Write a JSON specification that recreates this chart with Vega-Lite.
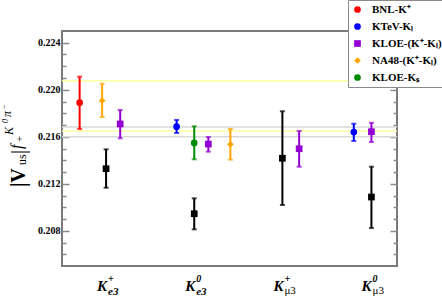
{
  "$schema": "https://vega.github.io/schema/vega-lite/v6.json",
  "width": 335,
  "height": 235,
  "autosize": {"type": "none"},
  "padding": {"left": 62, "top": 31, "right": 45, "bottom": 34},
  "background": "white",
  "config": {
    "view": {"stroke": "#7a7a7a", "strokeWidth": 2},
    "font": "Liberation Serif"
  },
  "datasets": {
    "meas": [
      {"channel": "K+e3", "source": "BNL-K⁺", "x": 0.70, "v": 0.21890, "lo": 0.21666, "hi": 0.22111},
      {"channel": "K+e3", "source": "NA48-(K⁺-Kₗ)", "x": 0.955, "v": 0.21907, "lo": 0.21768, "hi": 0.22051},
      {"channel": "K+e3", "source": "KLOE-(K⁺-Kₗ)", "x": 1.16, "v": 0.21709, "lo": 0.21587, "hi": 0.21828},
      {"channel": "K+e3", "source": "other", "x": 1.0, "v": 0.21328, "lo": 0.21166, "hi": 0.21493},
      {"channel": "K0e3", "source": "KTeV-Kₗ", "x": 1.80, "v": 0.21686, "lo": 0.21632, "hi": 0.21743},
      {"channel": "K0e3", "source": "KLOE-Kₛ", "x": 2.0, "v": 0.21547, "lo": 0.21408, "hi": 0.21689},
      {"channel": "K0e3", "source": "KLOE-(K⁺-Kₗ)", "x": 2.16, "v": 0.21538, "lo": 0.21473, "hi": 0.21598},
      {"channel": "K0e3", "source": "NA48-(K⁺-Kₗ)", "x": 2.41, "v": 0.21536, "lo": 0.21405, "hi": 0.21666},
      {"channel": "K0e3", "source": "other", "x": 2.0, "v": 0.20945, "lo": 0.20812, "hi": 0.21076},
      {"channel": "K+mu3", "source": "other", "x": 3.0, "v": 0.21417, "lo": 0.21019, "hi": 0.21817},
      {"channel": "K+mu3", "source": "KLOE-(K⁺-Kₗ)", "x": 3.19, "v": 0.21498, "lo": 0.21345, "hi": 0.21649},
      {"channel": "K0mu3", "source": "KTeV-Kₗ", "x": 3.81, "v": 0.21640, "lo": 0.21564, "hi": 0.21711},
      {"channel": "K0mu3", "source": "KLOE-(K⁺-Kₗ)", "x": 4.01, "v": 0.21643, "lo": 0.21555, "hi": 0.21719},
      {"channel": "K0mu3", "source": "other", "x": 4.01, "v": 0.21087, "lo": 0.20823, "hi": 0.21345}
    ],
    "lines": [
      {"kind": "average", "v": 0.22077},
      {"kind": "average", "v": 0.21650},
      {"kind": "band", "v": 0.21682},
      {"kind": "band", "v": 0.21600}
    ],
    "cats": [
      {"pos": 1, "main": "K", "sup": "+", "sub": "e3", "lep": "e"},
      {"pos": 2, "main": "K", "sup": "0", "sub": "e3", "lep": "e"},
      {"pos": 3, "main": "K", "sup": "+", "sub": "μ3", "lep": "mu"},
      {"pos": 4, "main": "K", "sup": "0", "sub": "μ3", "lep": "mu"}
    ],
    "one": [{"a": 1}]
  },
  "resolve": {"axis": {"y": "independent"}, "legend": {"color": "independent", "shape": "independent"}},
  "layer": [
    {
      "data": {"name": "lines"},
      "transform": [{"filter": "datum.kind === 'band'"}],
      "mark": {"type": "rule", "color": "#d9d9d9", "strokeWidth": 1.5},
      "encoding": {
        "y": {"field": "v", "type": "quantitative",
          "scale": {"domain": [0.205, 0.225], "nice": false, "zero": false},
          "axis": {
            "orient": "left", "title": null, "grid": false, "domain": false,
            "values": [0.206,0.207,0.208,0.209,0.21,0.211,0.212,0.213,0.214,0.215,0.216,0.217,0.218,0.219,0.22,0.221,0.222,0.223,0.224],
            "tickSize": {"condition": {"test": "round(datum.value*1000) % 4 === 0", "value": -7}, "value": -4},
            "tickColor": "#8a8a8a", "tickWidth": 1.5,
            "labelExpr": "round(datum.value*1000) % 4 === 0 ? format(datum.value, '.3f') : ''",
            "labelFont": "Liberation Serif", "labelFontWeight": "bold", "labelFontSize": 10,
            "labelColor": "black", "labelPadding": 9
          }
        }
      }
    },
    {
      "data": {"name": "lines"},
      "transform": [{"filter": "datum.kind === 'average'"}],
      "mark": {"type": "rule", "color": "#ffffa0", "strokeWidth": 1.5},
      "encoding": {
        "y": {"field": "v", "type": "quantitative",
          "scale": {"domain": [0.205, 0.225], "nice": false, "zero": false},
          "axis": {
            "orient": "right", "title": null, "grid": false, "domain": false, "labels": false,
            "values": [0.206,0.207,0.208,0.209,0.21,0.211,0.212,0.213,0.214,0.215,0.216,0.217,0.218,0.219,0.22,0.221,0.222,0.223,0.224],
            "tickSize": {"condition": {"test": "round(datum.value*1000) % 4 === 0", "value": -7}, "value": -4},
            "tickColor": "#8a8a8a", "tickWidth": 1.5
          }
        }
      }
    },
    {
      "data": {"name": "meas"},
      "transform": [{"filter": "datum.source !== 'other'"}],
      "mark": {"type": "errorbar", "thickness": 2, "ticks": {"size": 5, "thickness": 2}},
      "encoding": {
        "x": {"field": "x", "type": "quantitative", "scale": {"domain": [0.5, 4.3], "nice": false, "zero": false}, "axis": null},
        "y": {"field": "lo", "type": "quantitative", "scale": {"domain": [0.205, 0.225], "nice": false, "zero": false}, "axis": null},
        "y2": {"field": "hi"},
        "color": {"field": "source", "type": "nominal", "legend": null,
          "scale": {"domain": ["BNL-K⁺", "KTeV-Kₗ", "KLOE-(K⁺-Kₗ)", "NA48-(K⁺-Kₗ)", "KLOE-Kₛ"],
                    "range": ["#ff0000", "#0000ff", "#9400d3", "#ffa500", "#008c00"]}}
      }
    },
    {
      "data": {"name": "meas"},
      "transform": [{"filter": "datum.source === 'other'"}],
      "mark": {"type": "errorbar", "thickness": 2, "color": "black", "ticks": {"size": 5, "thickness": 2, "color": "black"}, "rule": {"color": "black"}},
      "encoding": {
        "x": {"field": "x", "type": "quantitative", "scale": {"domain": [0.5, 4.3], "nice": false, "zero": false}, "axis": null},
        "y": {"field": "lo", "type": "quantitative", "scale": {"domain": [0.205, 0.225], "nice": false, "zero": false}, "axis": null},
        "y2": {"field": "hi"}
      }
    },
    {
      "data": {"name": "meas"},
      "transform": [{"filter": "datum.source !== 'other'"}],
      "mark": {"type": "point", "filled": true, "opacity": 1, "size": 45},
      "encoding": {
        "x": {"field": "x", "type": "quantitative", "scale": {"domain": [0.5, 4.3], "nice": false, "zero": false}, "axis": null},
        "y": {"field": "v", "type": "quantitative", "scale": {"domain": [0.205, 0.225], "nice": false, "zero": false}, "axis": null},
        "color": {"field": "source", "type": "nominal", "title": null,
          "scale": {"domain": ["BNL-K⁺", "KTeV-Kₗ", "KLOE-(K⁺-Kₗ)", "NA48-(K⁺-Kₗ)", "KLOE-Kₛ"],
                    "range": ["#ff0000", "#0000ff", "#9400d3", "#ffa500", "#008c00"]},
          "legend": {"orient": "none", "legendX": 286, "legendY": -31, "padding": 4,
            "strokeColor": "#8a8a8a", "fillColor": "white", "title": null,
            "labelFont": "Liberation Serif", "labelFontWeight": "bold", "labelFontSize": 11,
            "labelColor": "black", "symbolSize": 45, "rowPadding": 5, "labelOffset": 9, "symbolStrokeWidth": 0}},
        "shape": {"field": "source", "type": "nominal", "title": null,
          "scale": {"domain": ["BNL-K⁺", "KTeV-Kₗ", "KLOE-(K⁺-Kₗ)", "NA48-(K⁺-Kₗ)", "KLOE-Kₛ"],
                    "range": ["circle", "circle", "square", "diamond", "circle"]},
          "legend": {"orient": "none", "legendX": 286, "legendY": -31, "padding": 4,
            "strokeColor": "#8a8a8a", "fillColor": "white", "title": null,
            "labelFont": "Liberation Serif", "labelFontWeight": "bold", "labelFontSize": 11,
            "labelColor": "black", "symbolSize": 45, "rowPadding": 5, "labelOffset": 9, "symbolStrokeWidth": 0}}
      }
    },
    {
      "data": {"name": "meas"},
      "transform": [{"filter": "datum.source === 'other'"}],
      "mark": {"type": "point", "filled": true, "opacity": 1, "size": 45, "shape": "square", "color": "black"},
      "encoding": {
        "x": {"field": "x", "type": "quantitative", "scale": {"domain": [0.5, 4.3], "nice": false, "zero": false}, "axis": null},
        "y": {"field": "v", "type": "quantitative", "scale": {"domain": [0.205, 0.225], "nice": false, "zero": false}, "axis": null}
      }
    },
    {
      "data": {"name": "cats"},
      "mark": {"type": "text", "align": "right", "baseline": "alphabetic", "dx": 1, "dy": 25, "font": "Liberation Serif", "fontSize": 15, "fontWeight": "bold", "fontStyle": "italic", "color": "black"},
      "encoding": {
        "x": {"field": "pos", "type": "quantitative", "scale": {"domain": [0.5, 4.3], "nice": false, "zero": false}, "axis": null},
        "y": {"datum": 0.205, "type": "quantitative", "axis": null},
        "text": {"field": "main"}
      }
    },
    {
      "data": {"name": "cats"},
      "mark": {"type": "text", "align": "left", "baseline": "alphabetic", "dx": 2, "dy": 16, "font": "Liberation Serif", "fontSize": 10, "fontWeight": "bold", "fontStyle": "italic", "color": "black"},
      "encoding": {
        "x": {"field": "pos", "type": "quantitative", "scale": {"domain": [0.5, 4.3], "nice": false, "zero": false}, "axis": null},
        "y": {"datum": 0.205, "type": "quantitative", "axis": null},
        "text": {"field": "sup"}
      }
    },
    {
      "data": {"name": "cats"},
      "transform": [{"filter": "datum.lep === 'e'"}],
      "mark": {"type": "text", "align": "left", "baseline": "alphabetic", "dx": 2, "dy": 29, "font": "Liberation Serif", "fontSize": 11, "fontWeight": "bold", "fontStyle": "italic", "color": "black"},
      "encoding": {
        "x": {"field": "pos", "type": "quantitative", "scale": {"domain": [0.5, 4.3], "nice": false, "zero": false}, "axis": null},
        "y": {"datum": 0.205, "type": "quantitative", "axis": null},
        "text": {"field": "sub"}
      }
    },
    {
      "data": {"name": "cats"},
      "transform": [{"filter": "datum.lep === 'mu'"}],
      "mark": {"type": "text", "align": "left", "baseline": "alphabetic", "dx": 2, "dy": 28, "font": "Liberation Serif", "fontSize": 11, "color": "black"},
      "encoding": {
        "x": {"field": "pos", "type": "quantitative", "scale": {"domain": [0.5, 4.3], "nice": false, "zero": false}, "axis": null},
        "y": {"datum": 0.205, "type": "quantitative", "axis": null},
        "text": {"field": "sub"}
      }
    },
    {
      "data": {"name": "one"},
      "mark": {"type": "text", "text": "|V", "angle": 270, "align": "left", "baseline": "alphabetic", "dx": 0, "dy": -37, "font": "Liberation Serif", "fontSize": 20, "fontWeight": "bold", "color": "black"},
      "encoding": {"x": {"datum": 0.5, "type": "quantitative", "axis": null}, "y": {"datum": 0.21172, "type": "quantitative", "axis": null}}
    },
    {
      "data": {"name": "one"},
      "mark": {"type": "text", "text": "us", "angle": 270, "align": "left", "baseline": "alphabetic", "dx": 22, "dy": -36, "font": "Liberation Serif", "fontSize": 12, "color": "black"},
      "encoding": {"x": {"datum": 0.5, "type": "quantitative", "axis": null}, "y": {"datum": 0.21172, "type": "quantitative", "axis": null}}
    },
    {
      "data": {"name": "one"},
      "mark": {"type": "text", "text": "|", "angle": 270, "align": "left", "baseline": "alphabetic", "dx": 33, "dy": -37, "font": "Liberation Serif", "fontSize": 20, "color": "black"},
      "encoding": {"x": {"datum": 0.5, "type": "quantitative", "axis": null}, "y": {"datum": 0.21172, "type": "quantitative", "axis": null}}
    },
    {
      "data": {"name": "one"},
      "mark": {"type": "text", "text": "f", "angle": 270, "align": "left", "baseline": "alphabetic", "dx": 38, "dy": -40, "font": "Liberation Serif", "fontSize": 16, "fontStyle": "italic", "color": "black"},
      "encoding": {"x": {"datum": 0.5, "type": "quantitative", "axis": null}, "y": {"datum": 0.21172, "type": "quantitative", "axis": null}}
    },
    {
      "data": {"name": "one"},
      "mark": {"type": "text", "text": "+", "angle": 270, "align": "left", "baseline": "alphabetic", "dx": 45, "dy": -39, "font": "Liberation Serif", "fontSize": 11, "color": "black"},
      "encoding": {"x": {"datum": 0.5, "type": "quantitative", "axis": null}, "y": {"datum": 0.21172, "type": "quantitative", "axis": null}}
    },
    {
      "data": {"name": "one"},
      "mark": {"type": "text", "text": "K", "angle": 270, "align": "left", "baseline": "alphabetic", "dx": 52, "dy": -49, "font": "Liberation Serif", "fontSize": 12, "fontStyle": "italic", "color": "black"},
      "encoding": {"x": {"datum": 0.5, "type": "quantitative", "axis": null}, "y": {"datum": 0.21172, "type": "quantitative", "axis": null}}
    },
    {
      "data": {"name": "one"},
      "mark": {"type": "text", "text": "0", "angle": 270, "align": "left", "baseline": "alphabetic", "dx": 64, "dy": -54, "font": "Liberation Serif", "fontSize": 8, "fontStyle": "italic", "color": "black"},
      "encoding": {"x": {"datum": 0.5, "type": "quantitative", "axis": null}, "y": {"datum": 0.21172, "type": "quantitative", "axis": null}}
    },
    {
      "data": {"name": "one"},
      "mark": {"type": "text", "text": "π", "angle": 270, "align": "left", "baseline": "alphabetic", "dx": 70, "dy": -51, "font": "Liberation Serif", "fontSize": 12, "fontStyle": "italic", "color": "black"},
      "encoding": {"x": {"datum": 0.5, "type": "quantitative", "axis": null}, "y": {"datum": 0.21172, "type": "quantitative", "axis": null}}
    },
    {
      "data": {"name": "one"},
      "mark": {"type": "text", "text": "−", "angle": 270, "align": "left", "baseline": "alphabetic", "dx": 78, "dy": -55, "font": "Liberation Serif", "fontSize": 8, "color": "black"},
      "encoding": {"x": {"datum": 0.5, "type": "quantitative", "axis": null}, "y": {"datum": 0.21172, "type": "quantitative", "axis": null}}
    }
  ]
}
